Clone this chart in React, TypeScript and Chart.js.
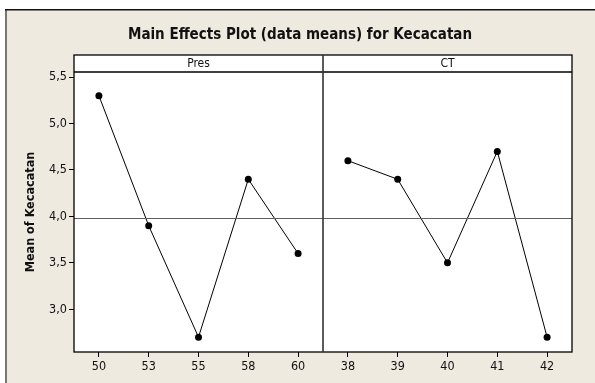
import React, { useEffect, useRef } from "react";
import { Chart, registerables } from "chart.js";

Chart.register(...registerables);

const titleText = "Main Effects Plot (data means) for Kecacatan";
const yTitle = "Mean of Kecacatan";
const presLevels = ["50", "53", "55", "58", "60"];
const ctLevels = ["38", "39", "40", "41", "42"];
const presMeans = [5.3, 3.9, 2.7, 4.4, 3.6];
const ctMeans = [4.6, 4.4, 3.5, 4.7, 2.7];
const yTicks = [3.0, 3.5, 4.0, 4.5, 5.0, 5.5];
const panelNames = ["Pres", "CT"];

const FONT = "'DejaVu Sans Condensed', 'DejaVu Sans', Verdana, sans-serif";

export default function App() {
  const ref = useRef<HTMLCanvasElement>(null);

  useEffect(() => {
    const canvas = ref.current;
    if (!canvas) return;
    const labels = [...presLevels, ...ctLevels];
    const nulls = presLevels.map(() => null);
    const presData = [...presMeans, ...ctLevels.map(() => null)];
    const ctData = [...nulls, ...ctMeans];
    const all = [...presMeans, ...ctMeans];
    const grandMean = all.reduce((a, b) => a + b, 0) / all.length;

    const framePlugin = {
      id: "frame",
      beforeDraw(chart: any) {
        const ctx = chart.ctx;
        ctx.save();
        ctx.fillStyle = "#ffffff";
        ctx.fillRect(0, 0, chart.width, chart.height);
        ctx.fillStyle = "#EEEAE0";
        ctx.fillRect(5, 9, chart.width - 5, chart.height - 9);
        ctx.fillStyle = "#777777";
        ctx.fillRect(5, 9, 2, chart.height - 9);
        ctx.fillStyle = "#111111";
        ctx.fillRect(5, 9, chart.width - 5, 1.5);
        const a = chart.chartArea;
        ctx.fillStyle = "#ffffff";
        ctx.fillRect(a.left, a.top - 17, a.right - a.left, a.bottom - a.top + 17);
        ctx.restore();
      },
      afterDatasetsDraw(chart: any) {
        const ctx = chart.ctx;
        const a = chart.chartArea;
        const y = chart.scales.y;
        ctx.save();
        ctx.strokeStyle = "#606060";
        ctx.lineWidth = 1;
        const ym = Math.round(y.getPixelForValue(grandMean)) + 0.5;
        ctx.beginPath();
        ctx.moveTo(a.left, ym);
        ctx.lineTo(a.right, ym);
        ctx.stroke();
        ctx.restore();
      },
      afterDraw(chart: any) {
        const ctx = chart.ctx;
        const a = chart.chartArea;
        const mid = Math.round((a.left + a.right) / 2);
        const top = a.top - 17;
        ctx.save();
        ctx.strokeStyle = "#000000";
        ctx.lineWidth = 1.3;
        ctx.strokeRect(a.left, top, a.right - a.left, a.bottom - top);
        ctx.beginPath();
        ctx.moveTo(a.left, a.top);
        ctx.lineTo(a.right, a.top);
        ctx.stroke();
        ctx.strokeStyle = "#333333";
        ctx.lineWidth = 1.6;
        ctx.beginPath();
        ctx.moveTo(mid, top);
        ctx.lineTo(mid, a.bottom);
        ctx.stroke();
        ctx.fillStyle = "#111111";
        ctx.font = `12px ${FONT}`;
        ctx.textAlign = "center";
        ctx.textBaseline = "middle";
        ctx.fillText(panelNames[0], (a.left + mid) / 2, top + 9);
        ctx.fillText(panelNames[1], (mid + a.right) / 2, top + 9);
        ctx.font = `bold 15px ${FONT}`;
        ctx.fillText(titleText, (5 + chart.width) / 2, 35);
        ctx.translate(31, (a.top + a.bottom) / 2);
        ctx.rotate(-Math.PI / 2);
        ctx.font = `bold 12.5px ${FONT}`;
        ctx.fillText(yTitle, 0, 0);
        ctx.restore();
      },
    };

    const chart = new Chart(canvas, {
      type: "line",
      data: {
        labels,
        datasets: [
          {
            data: presData,
            borderColor: "#000000",
            backgroundColor: "#000000",
            borderWidth: 1,
            pointRadius: 3.5,
            pointBackgroundColor: "#000000",
            pointBorderWidth: 0,
            spanGaps: false,
            tension: 0,
          },
          {
            data: ctData,
            borderColor: "#000000",
            backgroundColor: "#000000",
            borderWidth: 1,
            pointRadius: 3.5,
            pointBackgroundColor: "#000000",
            pointBorderWidth: 0,
            spanGaps: false,
            tension: 0,
          },
        ],
      },
      options: {
        animation: false,
        responsive: false,
        maintainAspectRatio: false,
        layout: { padding: { left: 0, right: 23, top: 72, bottom: 0 } },
        plugins: {
          legend: { display: false },
          tooltip: { enabled: false },
          title: { display: false },
        },
        scales: {
          x: {
            type: "category",
            offset: true,
            afterFit: (s: any) => {
              s.height = 31;
            },
            grid: {
              drawOnChartArea: false,
              drawTicks: true,
              tickLength: 5,
              tickColor: "#000000",
              offset: false,
            },
            border: { display: false },
            ticks: {
              color: "#111111",
              font: { family: FONT, size: 12.5 },
              padding: 2,
              maxRotation: 0,
              autoSkip: false,
            },
          },
          y: {
            min: 2.54,
            max: 5.555,
            afterFit: (s: any) => {
              s.width = 74;
            },
            afterBuildTicks: (s: any) => {
              s.ticks = yTicks.map((v) => ({ value: v }));
            },
            grid: {
              drawOnChartArea: false,
              drawTicks: true,
              tickLength: 5,
              tickColor: "#000000",
            },
            border: { display: false },
            ticks: {
              color: "#111111",
              font: { family: FONT, size: 12.5 },
              padding: 2,
              callback: (v: any) => Number(v).toFixed(1).replace(".", ","),
            },
          },
        },
      },
      plugins: [framePlugin],
    });
    return () => chart.destroy();
  }, []);

  return (
    <div style={{ position: "fixed", left: 0, top: 0, width: 595, height: 383 }}>
      <canvas ref={ref} width={595} height={383} style={{ width: 595, height: 383, display: "block" }} />
    </div>
  );
}
